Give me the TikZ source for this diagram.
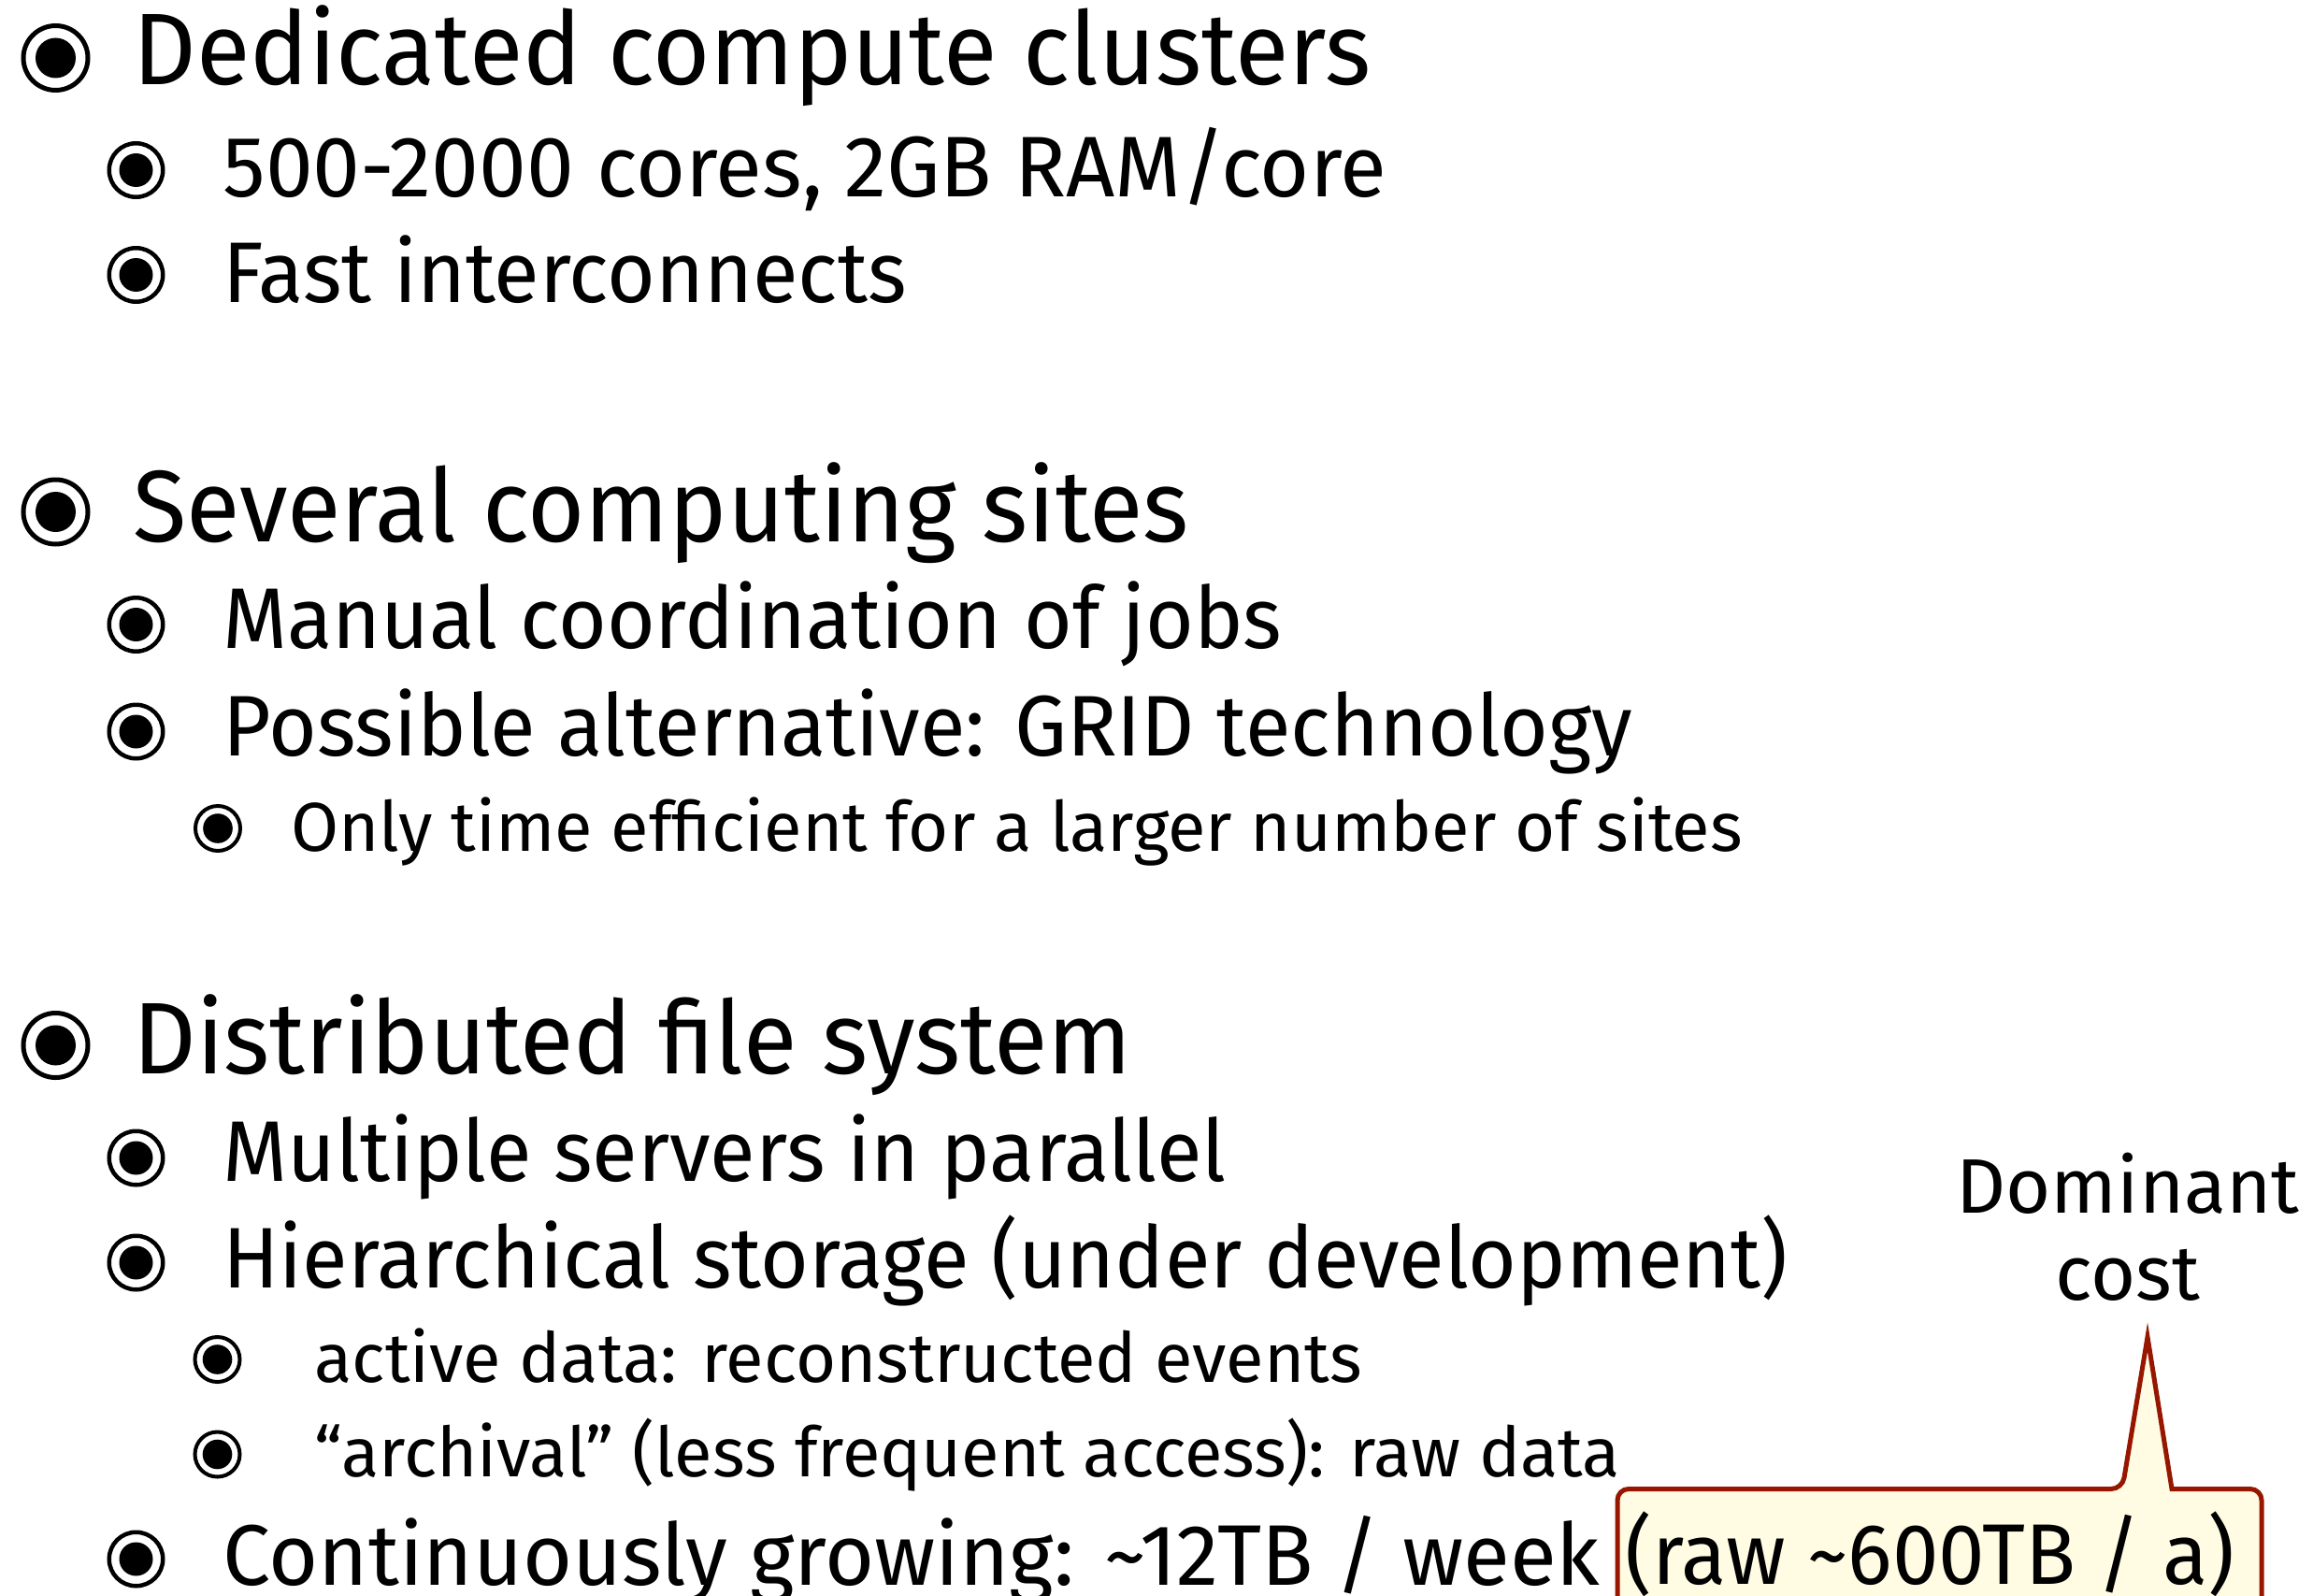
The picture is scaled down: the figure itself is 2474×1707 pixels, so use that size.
\documentclass[tikz,border=0pt]{standalone}
\usepackage{fontspec}
\setmainfont{Fira Sans}
\newfontfamily\narrowfont[FakeStretch=0.965]{Fira Sans}
\newfontfamily\digitfont[FakeStretch=0.99]{Fira Sans}
\definecolor{notefill}{RGB}{255,252,227}
\definecolor{noteline}{RGB}{150,22,0}

\begin{document}
\begin{tikzpicture}[x=0.5pt,y=-0.5pt]

%-------------------------------------------------
% Styles
%-------------------------------------------------
\tikzset{
  lone/.style={anchor=base west, inner sep=0pt, font=\narrowfont\fontsize{54.4pt}{60pt}\selectfont},
  ltwo/.style={anchor=base west, inner sep=0pt, font=\narrowfont\fontsize{46pt}{52pt}\selectfont},
  ltwonum/.style={ltwo, font=\digitfont\fontsize{46pt}{52pt}\selectfont},
  lthree/.style={anchor=base west, inner sep=0pt, font=\fontsize{37pt}{42pt}\selectfont},
  costlbl/.style={anchor=base, inner sep=0pt, font=\fontsize{41.3pt}{46pt}\selectfont},
  bone/.style={circle, draw, line width=2.5pt, minimum size=34.5pt, inner sep=0pt,
    path picture={\fill (path picture bounding box.center) circle (10.75pt);}},
  btwo/.style={circle, draw, line width=2.25pt, minimum size=28.75pt, inner sep=0pt,
    path picture={\fill (path picture bounding box.center) circle (9pt);}},
  bthree/.style={circle, draw, line width=2pt, minimum size=24pt, inner sep=0pt,
    path picture={\fill (path picture bounding box.center) circle (7.9pt);}},
  callout/.style={draw=noteline, fill=notefill, line width=2.5pt}
}

\useasboundingbox (0,0) rectangle (2474,1707);

%-------------------------------------------------
% Compute clusters
%-------------------------------------------------
\node[bone] (bA) at (59.5,62) {};
\node[lone] (secA) at (142,90.7) {Dedicated compute clusters};

\node[btwo] (bA1) at (145.5,182) {};
\node[ltwonum] (secA1) at (238,210) {500-2000 cores, 2GB RAM/core};
\node[btwo] (bA2) at (145.5,294) {};
\node[ltwo] (secA2) at (238,323) {Fast interconnects};

%-------------------------------------------------
% Computing sites
%-------------------------------------------------
\node[bone] (bB) at (59.5,547.5) {};
\node[lone] (secB) at (142,579) {Several computing sites};

\node[btwo] (bB1) at (145.5,668) {};
\node[ltwo] (secB1) at (238,693) {Manual coordination of jobs};
\node[btwo] (bB2) at (145.5,782.5) {};
\node[ltwo] (secB2) at (238,808) {Possible alternative: GRID technology};

\node[bthree] (bB2a) at (233,886) {};
\node[lthree] (secB2a) at (311,910) {Only time efficient for a larger number of sites};

%-------------------------------------------------
% File system
%-------------------------------------------------
\node[bone] (bC) at (59.5,1118) {};
\node[lone] (secC) at (142,1148) {Distributed file system};

\node[btwo] (bC1) at (145.5,1238.5) {};
\node[ltwo] (secC1) at (238,1263) {Multiple servers in parallel};
\node[btwo] (bC2) at (145.5,1350.5) {};
\node[ltwo] (secC2) at (238,1377) {Hierarchical storage (under development)};

\node[bthree] (bC2a) at (232.5,1454) {};
\node[lthree] (secC2a) at (336,1478) {active data: reconstructed events};
\node[bthree] (bC2b) at (232.5,1555.5) {};
\node[lthree] (secC2b) at (336,1579) {“archival” (less frequent access): raw data};

\node[btwo] (bC3) at (145.5,1667.5) {};
\node[ltwonum] (secC3) at (238,1695) {Continuously growing: \textasciitilde12TB / week};

%-------------------------------------------------
% Callout on the raw volume
%-------------------------------------------------
\coordinate (tip) at (2297,1430);
\draw[callout] (1730,1790) [rounded corners=6pt] -- (1730,1592.5) -- (2270,1592.5)
  [sharp corners] -- (tip) -- (2323,1592.5)
  [rounded corners=6pt] -- (2419,1592.5) -- (2419,1790);

\node[ltwo] (rawvol) at (1738,1694) {(raw \textasciitilde600TB / a)};

\node[costlbl] (dom) at (2276,1297.3) {Dominant};
\node[costlbl] (cost) at (2276,1390.7) {cost};

\end{tikzpicture}
\end{document}
